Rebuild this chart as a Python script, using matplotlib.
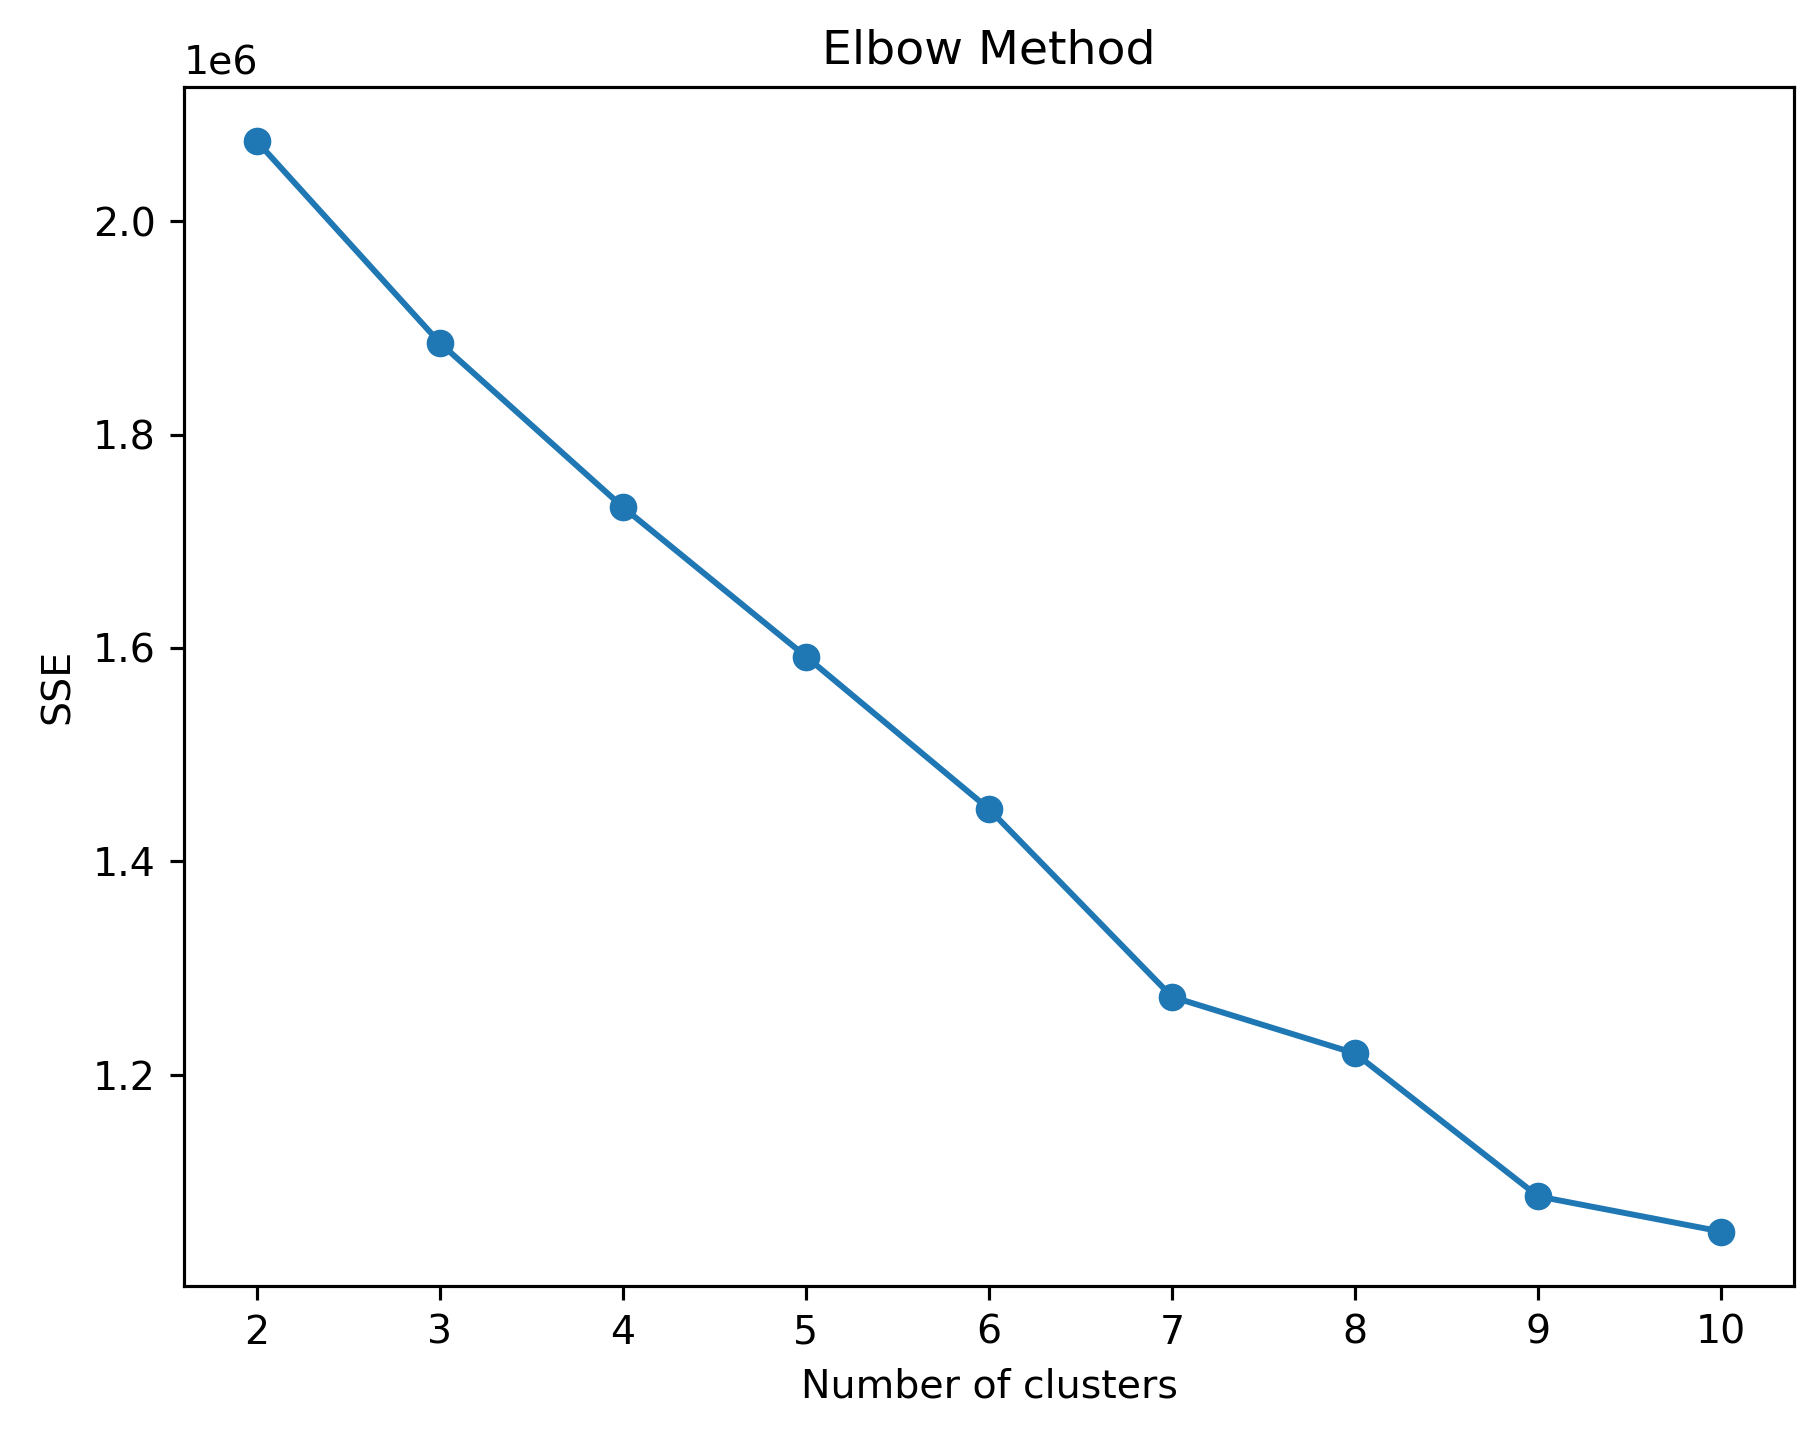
import matplotlib
matplotlib.use("Agg")
import matplotlib.pyplot as plt

clusters = [2, 3, 4, 5, 6, 7, 8, 9, 10]
sse = [2.075e6, 1.886e6, 1.732e6, 1.592e6, 1.449e6, 1.273e6, 1.220e6, 1.086e6, 1.053e6]

fig = plt.figure(figsize=(6.4, 6.4 * 1445 / 1818), dpi=1818 / 6.4)
ax = fig.add_axes([0.101, 0.11, 0.886, 0.83])
ax.plot(clusters, sse, marker="o", color="#1f77b4")
ax.set_title("Elbow Method")
ax.set_xlabel("Number of clusters")
ax.set_ylabel("SSE")
fig.savefig("out.png")
